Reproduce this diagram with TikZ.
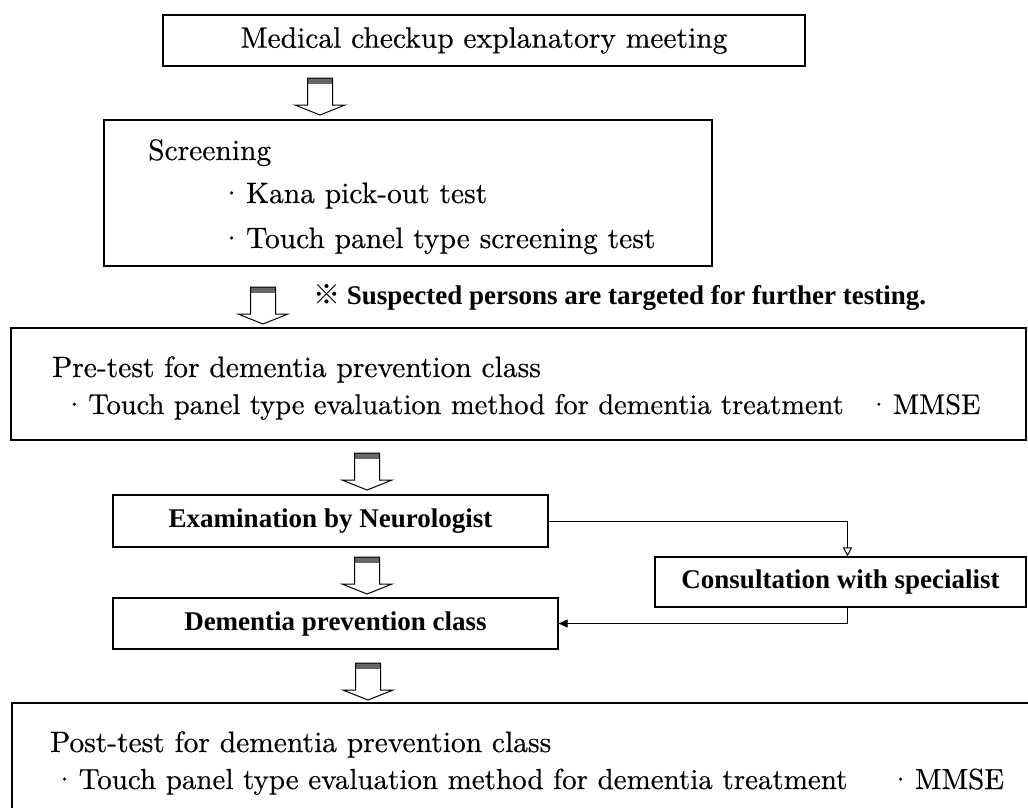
\documentclass[tikz,border=0pt]{standalone}
\usepackage{fontspec}
\newfontfamily\lmten{lmroman10-regular.otf}[FakeBold=0.4]
\newfontfamily\tms{Liberation Serif}
\newfontfamily\cjk{Noto Sans CJK JP}
\usetikzlibrary{arrows.meta}

\tikzset{
	flowbox/.style={draw, line width=1.2pt, inner sep=0pt},
	bodyfont/.style={font=\lmten\fontsize{29.5}{35}\selectfont},
	smallfont/.style={font=\lmten\fontsize{28.5}{34}\selectfont},
	boldfont/.style={font=\tms\bfseries\fontsize{27}{32}\selectfont},
	line/.style={bodyfont, inner sep=0pt, anchor=base west},
	conn/.style={line width=1pt},
	bigdown/.pic={
		\fill[black!60] (-12.5,0) rectangle (12.5,6);
		\draw[line width=1pt] (-12.5,0) -- (-12.5,27) -- (-25,27) -- (0,37)
			-- (25,27) -- (12.5,27) -- (12.5,0) -- cycle;
	}
}

\begin{document}
\begin{tikzpicture}[x=1pt, y=-1pt]
	\useasboundingbox (0,0) rectangle (1028,807);
	
	\node[flowbox, bodyfont, minimum width=642pt, minimum height=51pt] (meeting) at (484,40.5) {Medical checkup explanatory meeting};
	
	\node[flowbox, minimum width=608pt, minimum height=146pt] (screening) at (408,193) {};
	\node[line] (scrtitle) at (148,160) {Screening};
	\node[line] (kana) at (220,203) {·\kern3pt Kana pick-out test};
	\node[line] (scrtouch) at (220,248) {·\kern3pt Touch panel type screening test};
	
	\node[boldfont, inner sep=0pt, anchor=west] (note) at (313,297) {{\cjk ※}\ Suspected persons are targeted for further testing.};
	
	\node[flowbox, minimum width=1015pt, minimum height=112pt] (pretest) at (518.5,384) {};
	\node[line] (pretitle) at (52,377) {Pre-test for dementia prevention class};
	\node[line, smallfont] (pretouch) at (63,414) {·\kern3pt Touch panel type evaluation method for dementia treatment\hspace{24pt}·\kern3pt MMSE};
	
	\node[flowbox, boldfont, minimum width=435pt, minimum height=52pt] (neuro) at (330.5,521) {Examination by Neurologist};
	\node[flowbox, boldfont, minimum width=371pt, minimum height=50pt] (consult) at (840.5,582) {Consultation with specialist};
	\node[flowbox, boldfont, minimum width=445pt, minimum height=51pt] (prevclass) at (335.5,623.5) {Dementia prevention class};
	
	\node[flowbox, minimum width=1033pt, minimum height=137pt] (posttest) at (528.5,771.5) {};
	\node[line] (posttitle) at (50,752) {Post-test for dementia prevention class};
	\node[line, font=\lmten\fontsize{29}{34}\selectfont] (posttouch) at (53,789) {·\kern3pt Touch panel type evaluation method for dementia treatment\hspace{42pt}·\kern3pt MMSE};
	
	% block arrows
	\pic at (320,78) {bigdown};
	\pic at (263,287) {bigdown};
	\pic at (367,453) {bigdown};
	\pic at (367,557) {bigdown};
	\pic at (368,663) {bigdown};
	
	\draw[conn, -{Triangle[open, length=9pt, width=9pt]}] (neuro.east) -| ([xshift=7pt]consult.north);
	\draw[conn, -{Triangle[length=9pt, width=8pt]}] ([xshift=7pt]consult.south) |- (prevclass.east);
\end{tikzpicture}
\end{document}
